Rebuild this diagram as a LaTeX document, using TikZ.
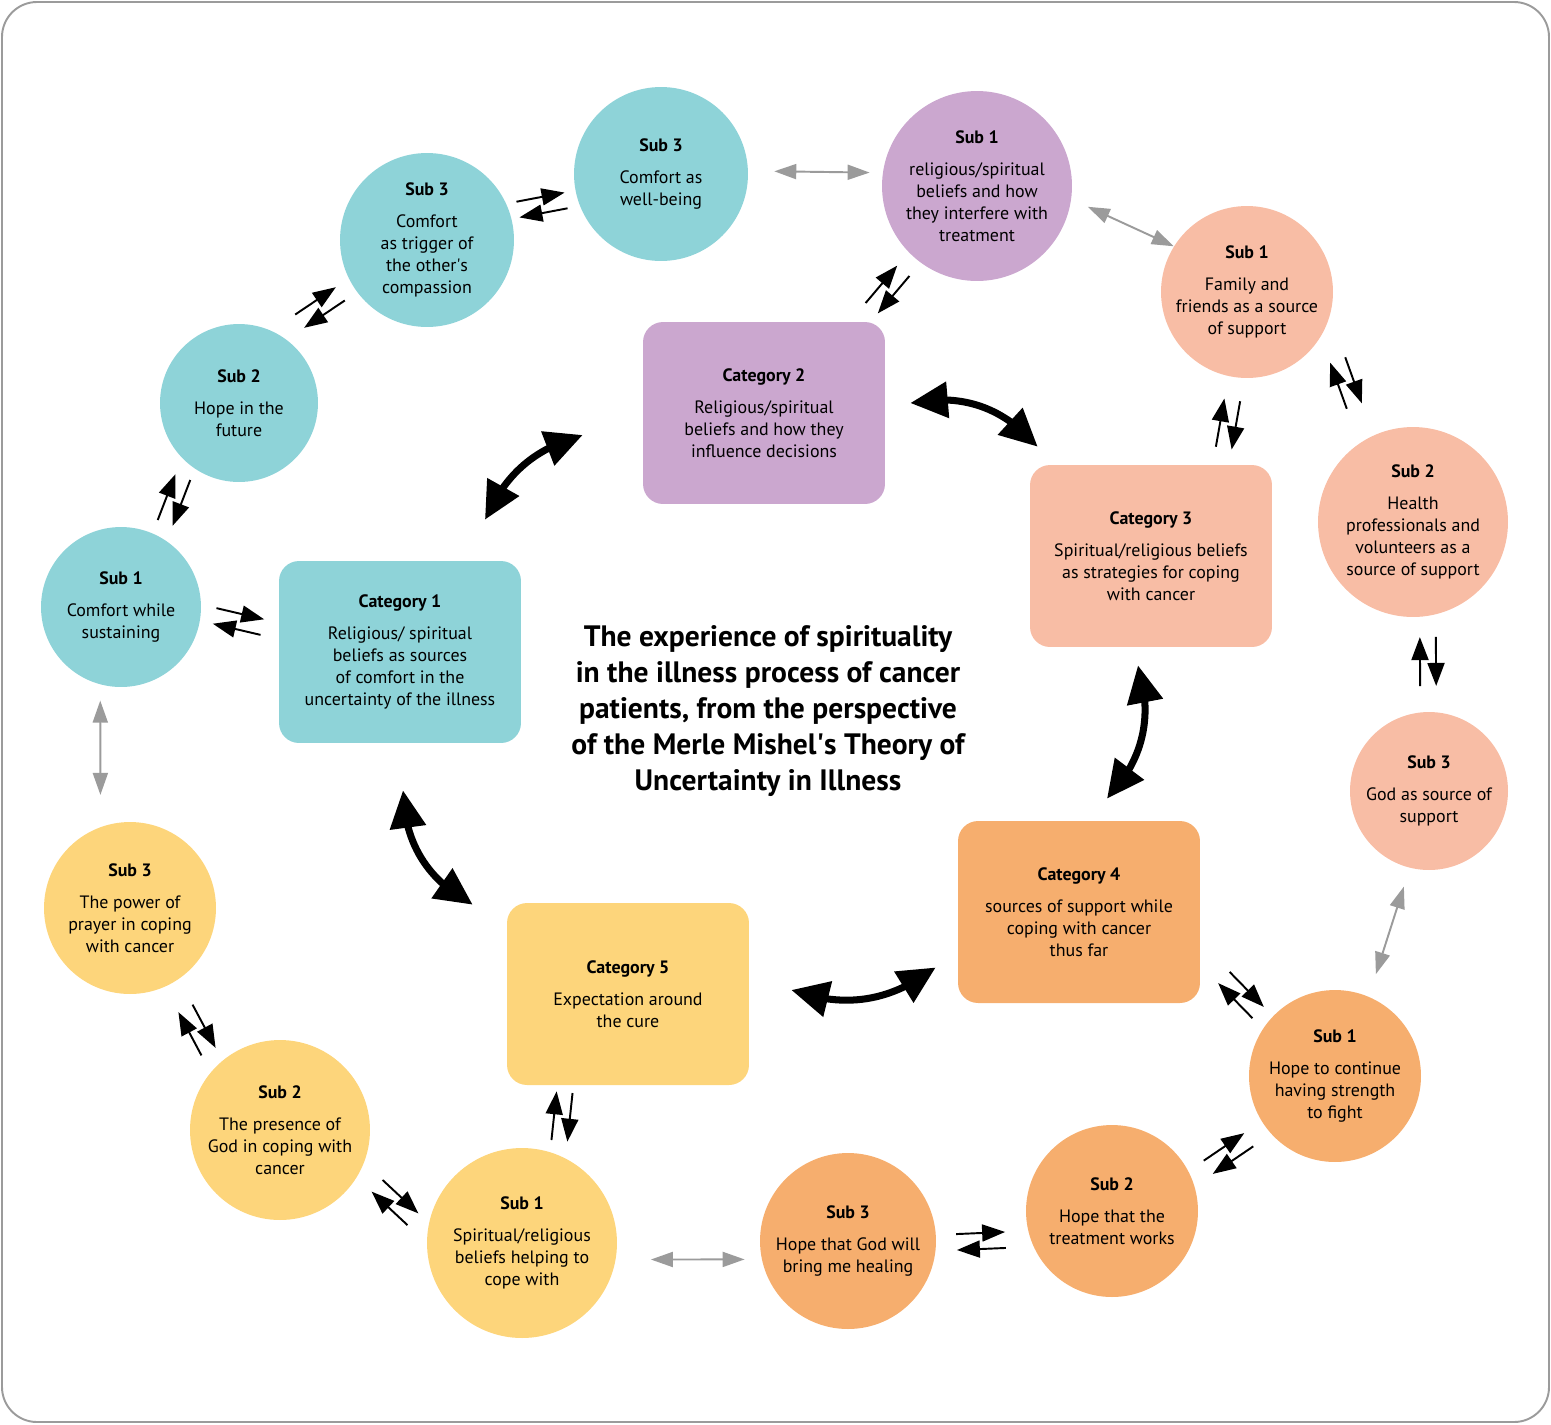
\documentclass[tikz,border=0pt]{standalone}
\usepackage{fontspec}
\setmainfont{PT Sans}
\usetikzlibrary{arrows.meta, calc, bending}
\definecolor{TealSub}{HTML}{8ED3D8}
\definecolor{PurpleSub}{HTML}{CBA7CF}
\definecolor{SalmonSub}{HTML}{F8BDA5}
\definecolor{OrangeSub}{HTML}{F6AE6E}
\definecolor{YellowSub}{HTML}{FDD57B}
\definecolor{LinkGray}{HTML}{9B9B9B}

% heading line of a node
\newcommand\hd[1]{\textbf{#1}\\[5.5pt]}
% pair of opposite arrows between two nodes: from, to, shift, tilt
\newcommand\twoway[4]{%
  \path let \p1=($(#2)-(#1)$), \n1={atan2(\y1,\x1)+#4} in
    coordinate (tw) at ($(#1)!0.5!(#2)+(#3)$)
    coordinate (twa) at ($(tw)+(\n1+90:0.16cm)+(\n1+180:0.49cm)$)
    coordinate (twb) at ($(tw)+(\n1+90:0.16cm)+(\n1:0.49cm)$)
    coordinate (twc) at ($(tw)+(\n1-90:0.16cm)+(\n1:0.49cm)$)
    coordinate (twd) at ($(tw)+(\n1-90:0.16cm)+(\n1+180:0.49cm)$);
  \draw[pairarrow] (twa) -- (twb);
  \draw[pairarrow] (twc) -- (twd);
}

\begin{document}
\begin{tikzpicture}[x=0.02cm, y=-0.02cm,
    every node/.style={font=\fontsize{10.2}{12.5}\selectfont, align=center, inner sep=0pt},
    sub/.style={circle, minimum size=#1},
    cat/.style={rectangle, rounded corners=0.4cm, minimum width=4.84cm, minimum height=3.64cm},
    frame/.style={draw=LinkGray, line width=1.1pt, rounded corners=0.7cm},
    pairarrow/.style={-{Triangle[length=0.46cm, width=0.34cm]}, line width=1.1pt},
    grayarrow/.style={{Triangle[length=0.44cm, width=0.3cm]}-{Triangle[length=0.44cm, width=0.3cm]}, draw=LinkGray, line width=1.1pt},
    bigarrow/.style={{Triangle[length=0.75cm, width=0.7cm]}-{Triangle[length=0.75cm, width=0.7cm]}, line width=4pt}
  ]
  \useasboundingbox (0,0) rectangle (1551,1424);
  \draw[frame] (2,2) rectangle (1549,1422);

  % categories
  \node[cat, fill=TealSub] (cat1) at (400,652) {\hd{Category 1}Religious/ spiritual\\beliefs as sources\\of comfort in the\\uncertainty of the illness};
  \node[cat, fill=PurpleSub] (cat2) at (764,413) {\hd{Category 2}Religious/spiritual\\beliefs and how they\\influence decisions};
  \node[cat, fill=SalmonSub] (cat3) at (1151,556) {\hd{Category 3}Spiritual/religious beliefs\\as strategies for coping\\with cancer};
  \node[cat, fill=OrangeSub] (cat4) at (1079,912) {\hd{Category 4}sources of support while\\coping with cancer\\thus far};
  \node[cat, fill=YellowSub] (cat5) at (628,994) {\hd{Category 5}Expectation around\\the cure};

  % subcategories
  \node[sub=3.2cm, fill=TealSub] (c1s1) at (121,607) {\hd{Sub 1}Comfort while\\sustaining};
  \node[sub=3.16cm, fill=TealSub] (c1s2) at (239,403) {\hd{Sub 2}Hope in the\\future};
  \node[sub=3.48cm, fill=TealSub] (c1s3) at (427,240) {\hd{Sub 3}Comfort\\as trigger of\\the other\textquotesingle s\\compassion};
  \node[sub=3.48cm, fill=TealSub] (c1s4) at (661,174) {\hd{Sub 3}Comfort as\\well-being};
  \node[sub=3.8cm, fill=PurpleSub] (c2s1) at (977,186) {\hd{Sub 1}religious/spiritual\\beliefs and how\\they interfere with\\treatment};
  \node[sub=3.44cm, fill=SalmonSub] (c3s1) at (1247,292) {\hd{Sub 1}Family and\\friends as a source\\of support};
  \node[sub=3.8cm, fill=SalmonSub] (c3s2) at (1413,522) {\hd{Sub 2}Health\\professionals and\\volunteers as a\\source of support};
  \node[sub=3.16cm, fill=SalmonSub] (c3s3) at (1429,791) {\hd{Sub 3}God as source of\\support};
  \node[sub=3.44cm, fill=OrangeSub] (c4s1) at (1335,1076) {\hd{Sub 1}Hope to continue\\having strength\\to fight};
  \node[sub=3.44cm, fill=OrangeSub] (c4s2) at (1112,1211) {\hd{Sub 2}Hope that the\\treatment works};
  \node[sub=3.52cm, fill=OrangeSub] (c4s3) at (848,1241) {\hd{Sub 3}Hope that God will\\bring me healing};
  \node[sub=3.8cm, fill=YellowSub] (c5s1) at (522,1243) {\hd{Sub 1}Spiritual/religious\\beliefs helping to\\cope with};
  \node[sub=3.6cm, fill=YellowSub] (c5s2) at (280,1130) {\hd{Sub 2}The presence of\\God in coping with\\cancer};
  \node[sub=3.44cm, fill=YellowSub] (c5s3) at (130,908) {\hd{Sub 3}The power of\\prayer in coping\\with cancer};

  % title
  \node[font=\fontsize{16.8}{20.4}\selectfont\bfseries] (title) at (768,711)
    {The experience of spirituality\\in the illness process of cancer\\patients, from the perspective\\of the Merle Mishel\textquotesingle s Theory of\\Uncertainty in Illness};

  % links between categories
  \draw[bigarrow] ([shift={(1.7cm,0.82cm)}]cat1.north) to[bend left=25] ([shift={(-1.2cm,-0.44cm)}]cat2.west);
  \draw[bigarrow] ([shift={(0.5cm,0.2cm)}]cat2.east) to[bend left=30] ([shift={(0.16cm,0.36cm)}]cat3.north west);
  \draw[bigarrow] ([shift={(-0.26cm,-0.36cm)}]cat3.south) to[bend left=30] ([shift={(0.56cm,0.44cm)}]cat4.north);
  \draw[bigarrow] ([shift={(-0.44cm,-1.11cm)}]cat4.west) to[bend left=28] ([shift={(0.84cm,0.08cm)}]cat5.east);
  \draw[bigarrow] ([shift={(-0.68cm,-0.04cm)}]cat5.north west) to[bend left=30] ([shift={(0.06cm,-0.94cm)}]cat1.south);

  % gray links
  \draw[grayarrow, shorten <=0.52cm, shorten >=0.26cm] (c1s4.2) -- (c2s1.172);
  \draw[grayarrow, shorten <=0.36cm] (c2s1.-8) -- (c3s1.148);
  \draw[grayarrow, shorten <=0.32cm, shorten >=0.64cm] (c1s1.-105) -- (c5s3.110);
  \draw[grayarrow, shorten <=0.39cm, shorten >=0.47cm] (c3s3.-104) -- (c4s1.67);
  \draw[grayarrow, shorten <=0.7cm, shorten >=0.34cm] (c5s1.-10) -- (c4s3.-168);

  % two-way links
  \twoway{c1s1}{c1s2}{-6,-5}{9}
  \twoway{c1s2}{c1s3}{-13,-14}{-7}
  \twoway{c1s3}{c1s4}{-2,-2}{-5}
  \twoway{c1s1}{cat1}{-22,-8}{-4}
  \twoway{cat2}{c2s1}{17,-10}{3}
  \twoway{cat3}{c3s1}{29,0}{10}
  \twoway{c3s1}{c3s2}{16,-24}{-16}
  \twoway{c3s2}{c3s3}{7,5}{-3}
  \twoway{cat4}{c4s1}{34,1}{-13}
  \twoway{c4s1}{c4s2}{5,10}{3}
  \twoway{c4s2}{c4s3}{1,15}{-4}
  \twoway{c5s1}{cat5}{-13,-2}{17}
  \twoway{c5s1}{c5s2}{-6,16}{-18}
  \twoway{c5s2}{c5s3}{-8,11}{-6}
\end{tikzpicture}
\end{document}
